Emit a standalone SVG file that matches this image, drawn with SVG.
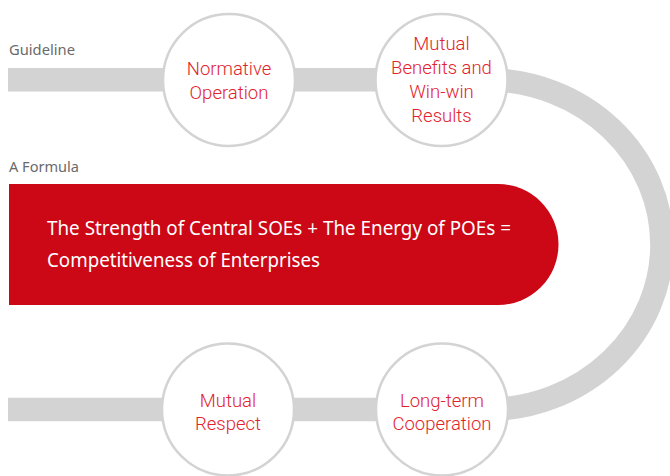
<svg xmlns="http://www.w3.org/2000/svg" width="670" height="476" viewBox="0 0 670 476">
<style>
.band{fill:none;stroke:#d3d3d3;stroke-width:23.5}
.node circle{fill:#ffffff;stroke:#d3d3d3;stroke-width:2.5}
.node text{font-family:Roboto,"Liberation Sans",Arial,sans-serif;font-weight:300;font-size:18.5px;fill:#e2232d;text-anchor:middle}
.lbl{font-family:"Noto Sans","Liberation Sans",sans-serif;font-size:14.5px;fill:#6a6a6a}
.formula{font-family:"Noto Sans","Liberation Sans",sans-serif;font-size:20px;fill:#ffffff}
</style>
<rect width="670" height="476" fill="#ffffff"/>
<g id="connectors">
<path class="band" d="M8,79.75 H489 A176,164.9 0 0 1 489,409.5 H8"/>
</g>
<text class="lbl" x="9" y="55" textLength="66" lengthAdjust="spacingAndGlyphs">Guideline</text>
<text class="lbl" x="9" y="172" textLength="70" lengthAdjust="spacingAndGlyphs">A Formula</text>
<g id="formula">
<path d="M9,184 H498 A60.5,60.5 0 0 1 498,305 H9 Z" fill="#cc0816"/>
<text class="formula" x="47" y="235" textLength="464" lengthAdjust="spacingAndGlyphs">The Strength of Central SOEs + The Energy of POEs =</text>
<text class="formula" x="47" y="267" textLength="273" lengthAdjust="spacingAndGlyphs">Competitiveness of Enterprises</text>
</g>
<g id="node-normative" class="node">
<circle cx="229" cy="80" r="66"/>
<text x="229" y="75">Normative</text>
<text x="229" y="99">Operation</text>
</g>
<g id="node-mutual-benefits" class="node">
<circle cx="441.5" cy="80" r="66"/>
<text x="441.5" y="50">Mutual</text>
<text x="441.5" y="74">Benefits and</text>
<text x="441.5" y="98">Win-win</text>
<text x="441.5" y="122">Results</text>
</g>
<g id="node-mutual-respect" class="node">
<circle cx="228" cy="409.5" r="66"/>
<text x="228" y="406.5">Mutual</text>
<text x="228" y="430">Respect</text>
</g>
<g id="node-long-term" class="node">
<circle cx="442" cy="409.5" r="66"/>
<text x="442" y="406.5">Long-term</text>
<text x="442" y="430">Cooperation</text>
</g>
</svg>
